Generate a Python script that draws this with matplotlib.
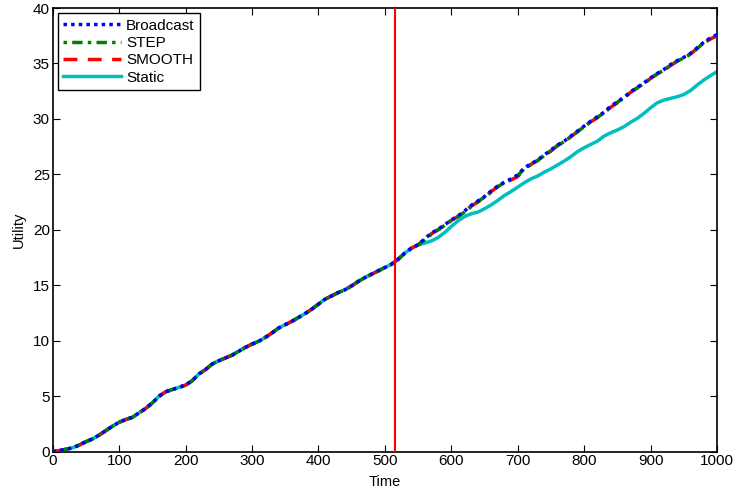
import numpy as np
import matplotlib
matplotlib.use("Agg")
import matplotlib.pyplot as plt

plt.rcParams['font.family'] = ['Liberation Sans', 'DejaVu Sans']

# time axis (one value every 10 time units)
time = list(range(0, 1001, 10))

# all four schemes coincide up to t = 550
shared = [0.0, 0.1, 0.22, 0.35, 0.6, 0.9, 1.15, 1.5, 1.9, 2.3,
          2.65, 2.9, 3.1, 3.5, 3.9, 4.4, 5.0, 5.4, 5.6, 5.8,
          6.0, 6.4, 7.0, 7.4, 7.9, 8.2, 8.45, 8.7, 9.05, 9.4,
          9.7, 9.95, 10.3, 10.7, 11.15, 11.45, 11.75, 12.1, 12.45, 12.85,
          13.3, 13.75, 14.05, 14.35, 14.6, 14.95, 15.35, 15.7, 16.0, 16.3,
          16.6, 16.9, 17.35, 17.9, 18.35, 18.65]

# t = 560 .. 1000
broadcast_tail = [19.2, 19.7, 20.05, 20.45, 20.9, 21.25, 21.7, 22.2, 22.6, 23.0,
                  23.5, 23.95, 24.3, 24.6, 24.95, 25.6, 25.95, 26.3, 26.75, 27.2,
                  27.65, 28.0, 28.45, 28.9, 29.35, 29.8, 30.2, 30.6, 31.15, 31.55,
                  31.95, 32.45, 32.85, 33.25, 33.7, 34.1, 34.45, 34.9, 35.25, 35.55,
                  35.9, 36.4, 36.9, 37.3, 37.6]
step_tail = [19.1, 19.6, 20.0, 20.4, 20.85, 21.2, 21.6, 22.1, 22.55, 22.95,
             23.4, 23.9, 24.25, 24.55, 24.9, 25.5, 25.9, 26.25, 26.7, 27.15,
             27.6, 27.95, 28.4, 28.85, 29.3, 29.75, 30.15, 30.55, 31.1, 31.5,
             31.9, 32.4, 32.8, 33.2, 33.65, 34.05, 34.4, 34.85, 35.2, 35.5,
             35.85, 36.35, 36.85, 37.25, 37.55]
smooth_tail = [19.15, 19.65, 20.0, 20.4, 20.85, 21.2, 21.65, 22.15, 22.5, 22.9,
               23.45, 23.9, 24.25, 24.5, 24.8, 25.5, 25.9, 26.25, 26.7, 27.1,
               27.6, 27.95, 28.4, 28.85, 29.3, 29.75, 30.1, 30.55, 31.05, 31.45,
               31.9, 32.4, 32.8, 33.2, 33.65, 34.05, 34.4, 34.8, 35.2, 35.45,
               35.85, 36.35, 36.85, 37.2, 37.5]
static_tail = [18.8, 19.0, 19.3, 19.75, 20.3, 20.8, 21.2, 21.45, 21.6, 21.9,
               22.25, 22.65, 23.1, 23.45, 23.85, 24.25, 24.6, 24.85, 25.2, 25.5,
               25.85, 26.2, 26.6, 27.05, 27.4, 27.7, 28.0, 28.45, 28.75, 29.0,
               29.3, 29.7, 30.05, 30.5, 31.0, 31.45, 31.7, 31.85, 32.0, 32.2,
               32.55, 33.05, 33.5, 33.9, 34.25]

switch_time = 515

broadcast = shared + broadcast_tail
step = shared + step_tail
smooth = shared + smooth_tail
static = shared + static_tail

fig = plt.figure(figsize=(7.35, 4.88), dpi=100)
ax = fig.add_axes([0.0717, 0.0744, 0.9038, 0.9092])

lw = 2.5
ax.plot(time, static, color=(0, 0.75, 0.75), linestyle='-', linewidth=lw, label='Static', zorder=2)
ax.plot(time, smooth, color='red', linestyle=(0, (4, 3)), linewidth=lw, label='SMOOTH', zorder=3)
ax.plot(time, step, color=(0, 0.5, 0), linestyle=(0, (1, 1.5, 3, 1.5)), linewidth=lw, label='STEP', zorder=4)
ax.plot(time, broadcast, color='blue', linestyle=(0, (1, 1.2)), linewidth=lw, label='Broadcast', zorder=5)
ax.axvline(switch_time, color='red', linewidth=1.5, zorder=6)

ax.set_xlim(0, 1000)
ax.set_ylim(0, 40)
ax.set_xticks(range(0, 1001, 100))
ax.set_yticks(range(0, 41, 5))
ax.tick_params(direction='in', top=True, right=True, labelsize=11, length=5, pad=2)
for s in ax.spines.values():
    s.set_linewidth(1.2)
ax.set_xlabel('Time', fontsize=10.5, labelpad=5)
ax.set_ylabel('Utility', fontsize=10.5, labelpad=5)

handles, labels = ax.get_legend_handles_labels()
order = [3, 2, 1, 0]
leg = ax.legend([handles[i] for i in order], [labels[i] for i in order],
                loc='upper left', fontsize=11, fancybox=False, framealpha=1,
                edgecolor='black', handlelength=3.8, handletextpad=0.3,
                borderpad=0.35, labelspacing=0.22, borderaxespad=0.35)
leg.get_frame().set_linewidth(1.0)

fig.savefig('out.png', dpi=100)
